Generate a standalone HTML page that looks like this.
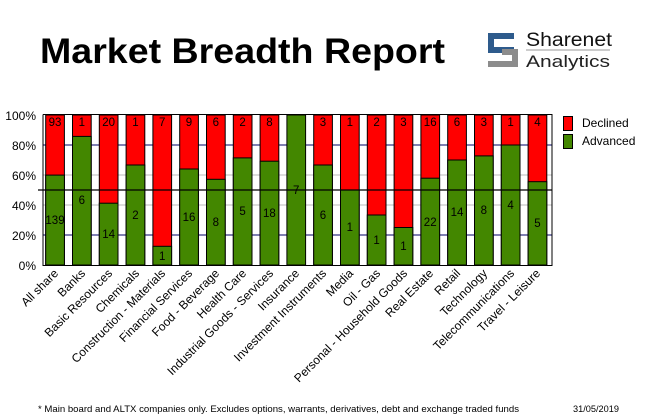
<!DOCTYPE html>
<html><head><meta charset="utf-8"><style>
html,body{margin:0;padding:0;background:#fff;width:655px;height:420px;overflow:hidden}
svg{display:block;font-family:"Liberation Sans",sans-serif}
</style></head><body>
<svg width="655" height="420" viewBox="0 0 655 420" xmlns="http://www.w3.org/2000/svg">
<text x="40" y="63" font-size="35" font-weight="bold" textLength="405" lengthAdjust="spacingAndGlyphs">Market Breadth Report</text>
<!-- logo -->
<path d="M488 33 H514 V39 H494 V47 H514 V53 H488 Z" fill="#2e5b8c"/>
<path d="M502 49 H518 V67 H488 V61 H512 V55 H502 Z" fill="#8c8c8c"/>
<text x="526" y="46" font-size="19" fill="#111" textLength="86" lengthAdjust="spacingAndGlyphs">Sharenet</text>
<line x1="526" y1="50" x2="610" y2="50" stroke="#999" stroke-width="1"/>
<text x="526" y="67" font-size="17" fill="#222" textLength="84" lengthAdjust="spacingAndGlyphs">Analytics</text>
<!-- grid -->
<g font-size="12" text-anchor="end">
<text x="36" y="120">100%</text><text x="36" y="150">80%</text><text x="36" y="180">60%</text>
<text x="36" y="210">40%</text><text x="36" y="240">20%</text><text x="36" y="270">0%</text>
</g>
<line x1="43" y1="145" x2="552" y2="145" stroke="#000066"/>
<line x1="43" y1="235" x2="552" y2="235" stroke="#000066"/>
<line x1="43" y1="175" x2="552" y2="175" stroke="#bbb"/>
<line x1="43" y1="205" x2="552" y2="205" stroke="#bbb"/>
<g stroke="#000" stroke-width="1">
<rect x="45.7" y="115" width="18.7" height="150" fill="#f00"/><rect x="45.7" y="175.1" width="18.7" height="89.9" fill="#438700"/>
<rect x="72.5" y="115" width="18.7" height="150" fill="#f00"/><rect x="72.5" y="136.4" width="18.7" height="128.6" fill="#438700"/>
<rect x="99.3" y="115" width="18.7" height="150" fill="#f00"/><rect x="99.3" y="203.2" width="18.7" height="61.8" fill="#438700"/>
<rect x="126.1" y="115" width="18.7" height="150" fill="#f00"/><rect x="126.1" y="165" width="18.7" height="100" fill="#438700"/>
<rect x="152.9" y="115" width="18.7" height="150" fill="#f00"/><rect x="152.9" y="246.3" width="18.7" height="18.7" fill="#438700"/>
<rect x="179.7" y="115" width="18.7" height="150" fill="#f00"/><rect x="179.7" y="169" width="18.7" height="96" fill="#438700"/>
<rect x="206.5" y="115" width="18.7" height="150" fill="#f00"/><rect x="206.5" y="179.3" width="18.7" height="85.7" fill="#438700"/>
<rect x="233.3" y="115" width="18.7" height="150" fill="#f00"/><rect x="233.3" y="157.9" width="18.7" height="107.1" fill="#438700"/>
<rect x="260.1" y="115" width="18.7" height="150" fill="#f00"/><rect x="260.1" y="161.2" width="18.7" height="103.8" fill="#438700"/>
<rect x="286.9" y="115" width="18.7" height="150" fill="#438700"/>
<rect x="313.7" y="115" width="18.7" height="150" fill="#f00"/><rect x="313.7" y="165" width="18.7" height="100" fill="#438700"/>
<rect x="340.5" y="115" width="18.7" height="150" fill="#f00"/><rect x="340.5" y="190" width="18.7" height="75" fill="#438700"/>
<rect x="367.3" y="115" width="18.7" height="150" fill="#f00"/><rect x="367.3" y="215" width="18.7" height="50" fill="#438700"/>
<rect x="394.1" y="115" width="18.7" height="150" fill="#f00"/><rect x="394.1" y="227.5" width="18.7" height="37.5" fill="#438700"/>
<rect x="420.9" y="115" width="18.7" height="150" fill="#f00"/><rect x="420.9" y="178.2" width="18.7" height="86.8" fill="#438700"/>
<rect x="447.7" y="115" width="18.7" height="150" fill="#f00"/><rect x="447.7" y="160" width="18.7" height="105" fill="#438700"/>
<rect x="474.5" y="115" width="18.7" height="150" fill="#f00"/><rect x="474.5" y="155.9" width="18.7" height="109.1" fill="#438700"/>
<rect x="501.3" y="115" width="18.7" height="150" fill="#f00"/><rect x="501.3" y="145" width="18.7" height="120" fill="#438700"/>
<rect x="528.1" y="115" width="18.7" height="150" fill="#f00"/><rect x="528.1" y="181.7" width="18.7" height="83.3" fill="#438700"/>
</g>
<line x1="38" y1="190" x2="552" y2="190" stroke="#000" stroke-width="1.3"/>
<path d="M43 114.5 V265.5 H552 V114.5 H43" fill="none" stroke="#000" stroke-width="1"/>
<g font-size="11.5" text-anchor="middle">
<text x="55" y="126">93</text><text x="81.8" y="126">1</text><text x="108.6" y="126">20</text><text x="135.4" y="126">1</text>
<text x="162.2" y="126">7</text><text x="189" y="126">9</text><text x="215.8" y="126">6</text><text x="242.6" y="126">2</text>
<text x="269.4" y="126">8</text><text x="323" y="126">3</text><text x="349.8" y="126">1</text><text x="376.6" y="126">2</text>
<text x="403.4" y="126">3</text><text x="430.2" y="126">16</text><text x="457" y="126">6</text><text x="483.8" y="126">3</text>
<text x="510.6" y="126">1</text><text x="537.4" y="126">4</text>
<text x="55" y="224">139</text><text x="81.8" y="204">6</text><text x="108.6" y="238">14</text><text x="135.4" y="219">2</text>
<text x="162.2" y="260">1</text><text x="189" y="221">16</text><text x="215.8" y="226">8</text><text x="242.6" y="215">5</text>
<text x="269.4" y="217">18</text><text x="296.2" y="194">7</text><text x="323" y="219">6</text><text x="349.8" y="231">1</text>
<text x="376.6" y="244">1</text><text x="403.4" y="250">1</text><text x="430.2" y="226">22</text><text x="457" y="216">14</text>
<text x="483.8" y="214">8</text><text x="510.6" y="209">4</text><text x="537.4" y="227">5</text>
</g>
<g font-size="12" text-anchor="end">
<text transform="translate(59,274) rotate(-45)">All share</text>
<text transform="translate(86,274) rotate(-45)">Banks</text>
<text transform="translate(113,274) rotate(-45)">Basic Resources</text>
<text transform="translate(140,274) rotate(-45)">Chemicals</text>
<text transform="translate(166,274) rotate(-45)">Construction - Materials</text>
<text transform="translate(193,274) rotate(-45)">Financial Services</text>
<text transform="translate(220,274) rotate(-45)">Food - Beverage</text>
<text transform="translate(247,274) rotate(-45)">Health Care</text>
<text transform="translate(274,274) rotate(-45)">Industrial Goods - Services</text>
<text transform="translate(300,274) rotate(-45)">Insurance</text>
<text transform="translate(327,274) rotate(-45)">Investment Instruments</text>
<text transform="translate(354,274) rotate(-45)">Media</text>
<text transform="translate(381,274) rotate(-45)">Oil - Gas</text>
<text transform="translate(408,274) rotate(-45)">Personal - Household Goods</text>
<text transform="translate(434,274) rotate(-45)">Real Estate</text>
<text transform="translate(461,274) rotate(-45)">Retail</text>
<text transform="translate(488,274) rotate(-45)">Technology</text>
<text transform="translate(515,274) rotate(-45)">Telecommunications</text>
<text transform="translate(541,274) rotate(-45)">Travel - Leisure</text>
</g>
<rect x="563.5" y="116.5" width="9" height="14" fill="#f00" stroke="#000"/>
<rect x="563.5" y="134.5" width="9" height="14" fill="#438700" stroke="#000"/>
<text x="582" y="127" font-size="12">Declined</text>
<text x="582" y="145" font-size="12">Advanced</text>
<text x="38" y="412" font-size="9.5" textLength="481" lengthAdjust="spacingAndGlyphs">* Main board and ALTX companies only. Excludes options, warrants, derivatives, debt and exchange traded funds</text>
<text x="573" y="412" font-size="9.5" textLength="46" lengthAdjust="spacingAndGlyphs">31/05/2019</text>
</svg>
</body></html>
